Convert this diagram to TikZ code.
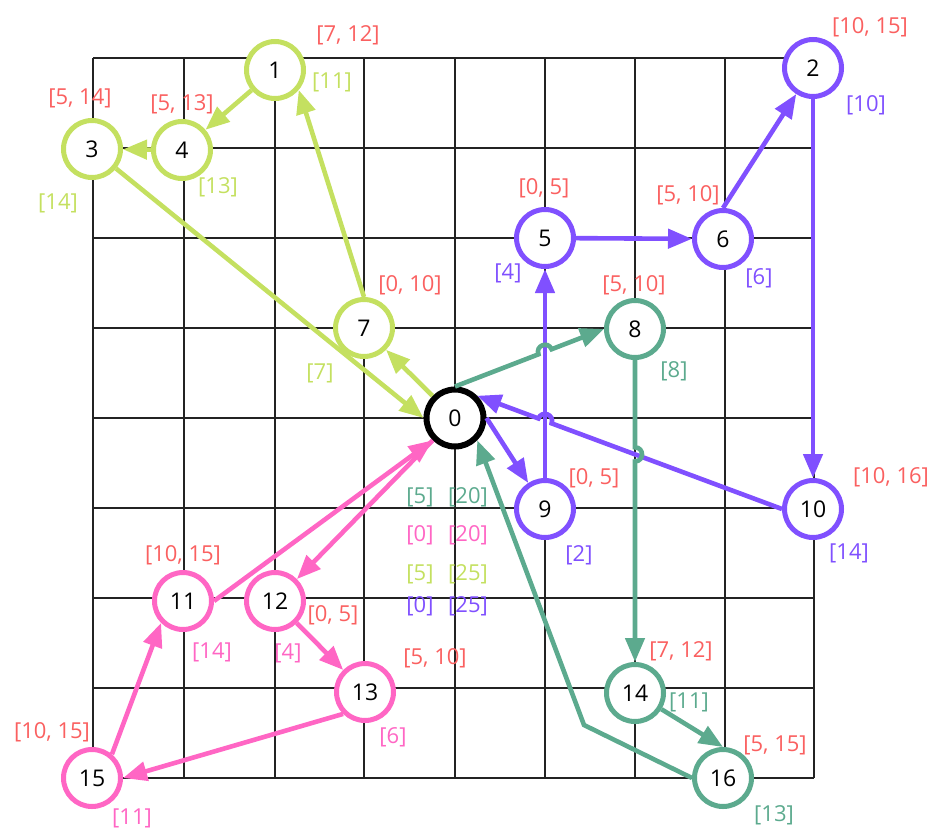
\documentclass[tikz,border=0pt]{standalone}
\usepackage{fontspec}
\setmainfont{Open Sans}
\usetikzlibrary{arrows.meta,calc}
\definecolor{cg}{RGB}{196,224,96}
\definecolor{cp}{RGB}{128,80,255}
\definecolor{ct}{RGB}{92,170,142}
\definecolor{cpk}{RGB}{255,102,196}
\definecolor{cr}{RGB}{250,96,96}
\definecolor{gridc}{RGB}{35,35,35}
\begin{document}
\begin{tikzpicture}[x=1pt,y=1pt,
  vtx/.style={circle, draw, fill=white, line width=5pt, minimum size=57pt, inner sep=0pt, font=\fontsize{23}{25}\selectfont},
  edgearr/.style={line width=4.6pt, -{Triangle[length=24pt,width=19pt]}},
  lbl/.style={font=\fontsize{22}{24}\selectfont, inner sep=0pt},
  gridline/.style={gridc, line width=2pt},
  hop/.style={bend #1=90, looseness=1.7}]
\useasboundingbox (0,0) rectangle (936,-830);
% grid
\foreach \gx in {93,184,275,364,455,545,635,725,814}
  \draw[gridline] (\gx,-58) -- (\gx,-778);
\foreach \gy in {58,148,238,328,418,508,598,688,778}
  \draw[gridline] (93,-\gy) -- (814,-\gy);
% nodes
\node[vtx, draw=black, line width=6pt] (n0) at (455,-418) {0};
\node[vtx, draw=cg] (n1) at (275,-70) {1};
\node[vtx, draw=cp] (n2) at (813,-68) {2};
\node[vtx, draw=cg] (n3) at (92,-149) {3};
\node[vtx, draw=cg] (n4) at (182,-150) {4};
\node[vtx, draw=cp] (n5) at (545,-238) {5};
\node[vtx, draw=cp] (n6) at (723,-239) {6};
\node[vtx, draw=cg] (n7) at (364,-328) {7};
\node[vtx, draw=ct] (n8) at (635,-329) {8};
\node[vtx, draw=cp] (n9) at (545,-509) {9};
\node[vtx, draw=cp] (n10) at (813,-509) {10};
\node[vtx, draw=cpk] (n11) at (183,-601) {11};
\node[vtx, draw=cpk] (n12) at (275,-601) {12};
\node[vtx, draw=cpk] (n13) at (365,-692) {13};
\node[vtx, draw=ct] (n14) at (635,-693) {14};
\node[vtx, draw=cpk] (n15) at (92,-778) {15};
\node[vtx, draw=ct] (n16) at (723,-778) {16};
% green edges
\draw[edgearr, cg] (n0) -- (n7);
\draw[edgearr, cg] (n7.north) -- (n1.-40);
\draw[edgearr, cg] (n1) -- (n4);
\draw[edgearr, cg] (n4) -- (n3);
\draw[edgearr, cg] (n3) -- (n0.west);
% purple edges
\draw[edgearr, cp] (n0.east) -- (n9);
\draw[edgearr, cp] (n9.north) -- (n5.south);
\draw[edgearr, cp] (n5) -- (n6);
\draw[edgearr, cp] (n6.north) -- (n2);
\draw[edgearr, cp] (n2.south) -- (n10.north);
\coordinate (xa) at (intersection of n10.west--n0.north east and n9.north--n5.south);
\draw[edgearr, cp] (n10.west) -- ($(xa)!7pt!(n10.west)$) to[hop=right] ($(xa)!7pt!(n0.north east)$) -- (n0.north east);
% teal edges
\coordinate (xb) at (intersection of n0.north--n8.west and n9.north--n5.south);
\draw[edgearr, ct] (n0.north) -- ($(xb)!7pt!(n0.north)$) to[hop=left] ($(xb)!7pt!(n8.west)$) -- (n8.west);
\coordinate (xc) at (intersection of n8.south--n14.north and n10.west--n0.north east);
\draw[edgearr, ct] (n8.south) -- ($(xc)!7pt!(n8.south)$) to[hop=left] ($(xc)!7pt!(n14.north)$) -- (n14.north);
\draw[edgearr, ct] (n14) -- (n16.north);
\coordinate (b16) at (584,-725);
\draw[edgearr, ct] (n16.west) -- (b16) -- (n0.-45);
% pink edges
\draw[edgearr, cpk] (n0.south west) -- (n12.north east);
\draw[edgearr, cpk] (n12) -- (n13);
\draw[edgearr, cpk] (n13.south west) -- (n15.east);
\draw[edgearr, cpk] (n15.50) -- (n11.225);
\draw[edgearr, cpk] (n11.east) -- (n0.south west);
% interval labels
\node[lbl, cr] (r1) at (348,-35) {[7, 12]};
\node[lbl, cr] (r2) at (870,-27) {[10, 15]};
\node[lbl, cr] (r3) at (80,-98) {[5, 14]};
\node[lbl, cr] (r4) at (182,-104) {[5, 13]};
\node[lbl, cr] (r5) at (544,-188) {[0, 5]};
\node[lbl, cr] (r6) at (688,-195) {[5, 10]};
\node[lbl, cr] (r7) at (410,-285) {[0, 10]};
\node[lbl, cr] (r8) at (634,-285) {[5, 10]};
\node[lbl, cr] (r9) at (594,-478) {[0, 5]};
\node[lbl, cr] (r10) at (891,-477) {[10, 16]};
\node[lbl, cr] (r11) at (183,-555) {[10, 15]};
\node[lbl, cr] (r12) at (333,-615) {[0, 5]};
\node[lbl, cr] (r13) at (435,-658) {[5, 10]};
\node[lbl, cr] (r14) at (681,-651) {[7, 12]};
\node[lbl, cr] (r15) at (52,-732) {[10, 15]};
\node[lbl, cr] (r16) at (775,-745) {[5, 15]};
% value labels
\node[lbl, cg] (c1) at (332,-82) {[11]};
\node[lbl, cg] (c3) at (58,-203) {[14]};
\node[lbl, cg] (c4) at (218,-187) {[13]};
\node[lbl, cg] (c7) at (320,-373) {[7]};
\node[lbl, cp] (c2) at (866,-105) {[10]};
\node[lbl, cp] (c5) at (508,-273) {[4]};
\node[lbl, cp] (c6) at (759,-278) {[6]};
\node[lbl, cp] (c9) at (579,-555) {[2]};
\node[lbl, cp] (c10) at (849,-553) {[14]};
\node[lbl, ct] (c8) at (674,-371) {[8]};
\node[lbl, ct] (c14) at (689,-702) {[11]};
\node[lbl, ct] (c16) at (774,-815) {[13]};
\node[lbl, cpk] (c11) at (212,-652) {[14]};
\node[lbl, cpk] (c12) at (288,-653) {[4]};
\node[lbl, cpk] (c13) at (393,-737) {[6]};
\node[lbl, cpk] (c15) at (132,-818) {[11]};
% node 0 labels
\node[lbl, ct] (z1) at (420,-497) {[5]};
\node[lbl, ct] (z2) at (468,-497) {[20]};
\node[lbl, cpk] (z3) at (420,-535) {[0]};
\node[lbl, cpk] (z4) at (468,-535) {[20]};
\node[lbl, cg] (z5) at (420,-574) {[5]};
\node[lbl, cg] (z6) at (468,-574) {[25]};
\node[lbl, cp] (z7) at (420,-606) {[0]};
\node[lbl, cp] (z8) at (468,-606) {[25]};
\end{tikzpicture}
\end{document}
